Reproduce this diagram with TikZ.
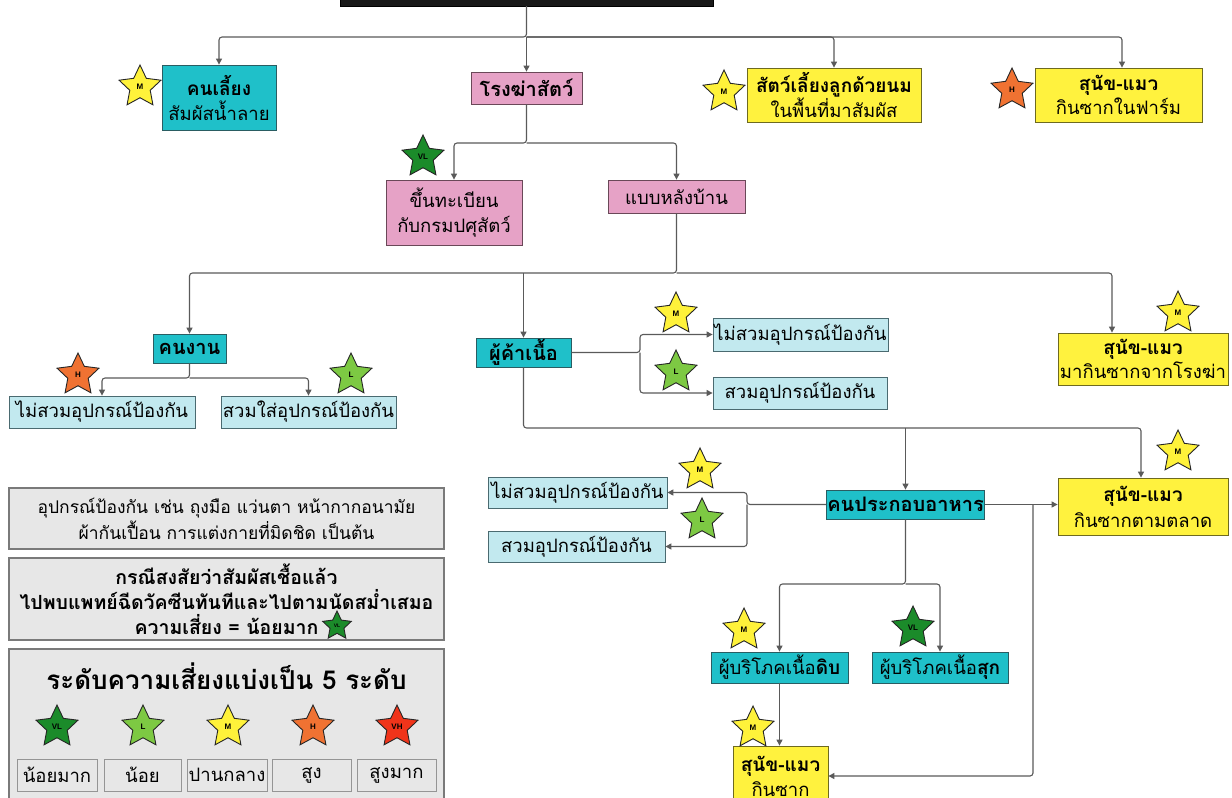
\documentclass[tikz,border=0pt]{standalone}
\usepackage{fontspec}
\usetikzlibrary{shapes.geometric, arrows.meta}
\newfontfamily\thai[Script=Thai]{Loma}
\newfontfamily\lab{Liberation Sans}
\newcommand{\bt}[1]{{\bfseries\fontsize{19}{25}\selectfont #1}}
\definecolor{cyanF}{HTML}{1FC0C9}
\definecolor{cyanD}{HTML}{2A5D62}
\definecolor{pinkF}{HTML}{E6A2C6}
\definecolor{pinkD}{HTML}{6A4858}
\definecolor{yelF}{HTML}{FFF23E}
\definecolor{yelD}{HTML}{6E6A20}
\definecolor{lbF}{HTML}{C2E9EF}
\definecolor{lbD}{HTML}{4A6A70}
\definecolor{grF}{HTML}{E7E7E7}
\definecolor{grD}{HTML}{7A7A7A}
\definecolor{lineC}{HTML}{5A5A5A}
\definecolor{cVL}{HTML}{1B8B2A}
\definecolor{cL}{HTML}{7DC943}
\definecolor{cM}{HTML}{FFF23A}
\definecolor{cH}{HTML}{F07232}
\definecolor{cVH}{HTML}{F0341A}
\tikzset{
  box/.style={draw, line width=0.8pt, inner sep=1pt, align=center, font=\thai\fontsize{18.5}{25}\selectfont},
  boldbox/.style={font=\thai\bfseries\fontsize{20}{25}\selectfont},
  cyanbox/.style={box, fill=cyanF, draw=cyanD},
  pinkbox/.style={box, fill=pinkF, draw=pinkD},
  yelbox/.style={box, fill=yelF, draw=yelD},
  lbbox/.style={box, fill=lbF, draw=lbD},
  legbox/.style={box, fill=grF, draw=grD, line width=1.2pt},
  labbox/.style={box, fill=grF, draw=grD!80, line width=0.8pt},
  trunk/.style={draw=lineC, line width=1.1pt, rounded corners=3pt},
  conn/.style={trunk, -{Triangle[length=6pt,width=6pt]}},
  riskstar/.style={star, star points=5, star point ratio=2.05, minimum size=44pt, inner sep=0pt,
    draw=black!85, line width=0.9pt, font=\lab\bfseries\fontsize{8}{8}\selectfont},
  sVL/.style={riskstar, fill=cVL},
  sL/.style={riskstar, fill=cL},
  sM/.style={riskstar, fill=cM},
  sH/.style={riskstar, fill=cH},
  sVH/.style={riskstar, fill=cVH},
}
\begin{document}
\begin{tikzpicture}[x=1pt,y=-1pt]
\useasboundingbox (0,0) rectangle (1232,798);
\clip (0,0) rectangle (1232,798);
\fill[white] (0,0) rectangle (1232,798);

% top box
\node[draw=black, fill=black!90, minimum width=373pt, minimum height=26pt, inner sep=0pt] (top) at (526.5,-7) {};

% level 1
\node[cyanbox, minimum width=114pt, minimum height=65pt] (keeper) at (219,97.5) {\bt{คนเลี้ยง}\\สัมผัสน้ำลาย};
\node[pinkbox, boldbox, minimum width=111pt, minimum height=32pt] (slaughter) at (526.5,88) {โรงฆ่าสัตว์};
\node[yelbox, minimum width=174pt, minimum height=54pt, font=\thai\fontsize{18.5}{24}\selectfont] (mammal) at (834,95) {\bt{สัตว์เลี้ยงลูกด้วยนม}\\ในพื้นที่มาสัมผัส};
\node[yelbox, minimum width=167pt, minimum height=54pt, font=\thai\fontsize{18.5}{24}\selectfont] (dogfarm) at (1118.5,95) {\bt{สุนัข-แมว}\\กินซากในฟาร์ม};

% level 2
\node[pinkbox, minimum width=136pt, minimum height=65pt] (registered) at (454,212.5) {ขึ้นทะเบียน\\กับกรมปศุสัตว์};
\node[pinkbox, minimum width=137pt, minimum height=33pt] (backyard) at (676.5,196.5) {แบบหลังบ้าน};

% level 3
\node[cyanbox, boldbox, minimum width=73pt, minimum height=29pt] (worker) at (189.5,348.5) {คนงาน};
\node[lbbox, minimum width=186pt, minimum height=32pt] (wnoppe) at (102,412) {ไม่สวมอุปกรณ์ป้องกัน};
\node[lbbox, minimum width=175pt, minimum height=32pt] (wppe) at (308.5,412) {สวมใส่อุปกรณ์ป้องกัน};

\node[cyanbox, boldbox, minimum width=95pt, minimum height=29pt] (trader) at (523.5,352.5) {ผู้ค้าเนื้อ};
\node[lbbox, minimum width=175pt, minimum height=33pt] (tnoppe) at (800.5,334.5) {ไม่สวมอุปกรณ์ป้องกัน};
\node[lbbox, minimum width=174pt, minimum height=32pt] (tppe) at (800,393) {สวมอุปกรณ์ป้องกัน};

\node[yelbox, minimum width=170pt, minimum height=52pt, font=\thai\fontsize{18.5}{24}\selectfont] (dogslaughter) at (1143,359) {\bt{สุนัข-แมว}\\มากินซากจากโรงฆ่า};

% level 4
\node[cyanbox, boldbox, minimum width=155pt, minimum height=29pt] (cook) at (905.5,504.5) {คนประกอบอาหาร};
\node[lbbox, minimum width=179pt, minimum height=31pt] (cnoppe) at (577.5,492.5) {ไม่สวมอุปกรณ์ป้องกัน};
\node[lbbox, minimum width=177pt, minimum height=31pt] (cppe) at (576.5,546.5) {สวมอุปกรณ์ป้องกัน};
\node[yelbox, minimum width=170pt, minimum height=57pt, font=\thai\fontsize{18.5}{26}\selectfont] (dogmarket) at (1143,506.5) {\bt{สุนัข-แมว}\\กินซากตามตลาด};

% level 5
\node[cyanbox, minimum width=137pt, minimum height=31pt] (raw) at (779.5,667.5) {ผู้บริโภคเนื้อ\bt{ดิบ}};
\node[cyanbox, minimum width=136pt, minimum height=31pt] (cooked) at (940,667.5) {ผู้บริโภคเนื้อ\bt{สุก}};
\node[yelbox, minimum width=95pt, minimum height=60pt, font=\thai\fontsize{18.5}{25}\selectfont] (dogscav) at (780.5,776) {\bt{สุนัข-แมว}\\กินซาก};

% legend
\node[legbox, minimum width=435pt, minimum height=61pt, font=\thai\fontsize{17.5}{26}\selectfont] (leg1) at (226.5,518.5) {อุปกรณ์ป้องกัน เช่น ถุงมือ แว่นตา หน้ากากอนามัย\\ผ้ากันเปื้อน การแต่งกายที่มิดชิด เป็นต้น};
\node[legbox, minimum width=435pt, minimum height=82pt, font=\thai\bfseries\fontsize{19.5}{25}\selectfont] (leg2) at (226.5,599) {กรณีสงสัยว่าสัมผัสเชื้อแล้ว\\ไปพบแพทย์ฉีดวัคซีนทันทีและไปตามนัดสม่ำเสมอ\\ความเสี่ยง = น้อยมาก\hspace{22pt}};
\node[legbox, minimum width=435pt, minimum height=161pt] (leg3) at (226.5,729.5) {};
\node[font=\thai\bfseries\fontsize{26}{30}\selectfont] (legtitle) at (226.5,676) {ระดับความเสี่ยงแบ่งเป็น 5 ระดับ};
\node[labbox, minimum width=80pt, minimum height=32pt] (lab1) at (57,775) {น้อยมาก};
\node[labbox, minimum width=77pt, minimum height=32pt] (lab2) at (142.5,775) {น้อย};
\node[labbox, minimum width=80pt, minimum height=32pt] (lab3) at (227,775) {ปานกลาง};
\node[labbox, minimum width=79pt, minimum height=32pt] (lab4) at (311.5,775) {สูง};
\node[labbox, minimum width=79pt, minimum height=32pt] (lab5) at (396.5,775) {สูงมาก};

% connectors
\coordinate (j1) at (526.5,37);
\draw[conn] (top.south) -- (j1) -| (keeper.north);
\draw[conn] (j1) -- (slaughter.north);
\draw[conn] (j1) -| (mammal.north);
\draw[conn] (j1) -| ([xshift=3.5pt]dogfarm.north);

\coordinate (j2) at (526.5,143);
\draw[conn] (slaughter.south) -- (j2) -| (registered.north);
\draw[conn] (j2) -| (backyard.north);

\coordinate (j3) at (676.5,273);
\draw[conn] (backyard.south) -- (j3) -| (worker.north);
\draw[conn] (j3) -| ([xshift=-31pt]dogslaughter.north);
\draw[conn] (trader.north |- j3) -- (trader.north);

\coordinate (j4) at (189.5,378);
\draw[conn] (worker.south) -- (j4) -| (wnoppe.north);
\draw[conn] (j4) -| (wppe.north);

\coordinate (j5) at (640,352.5);
\draw[conn] (trader.east) -- (j5) |- (tnoppe.west);
\draw[conn] (j5) |- (tppe.west);

\coordinate (j6) at (523.5,428);
\draw[conn] (trader.south) -- (j6) -| ([xshift=-2pt]dogmarket.north);
\draw[conn] (cook.north |- j6) -- (cook.north);

\coordinate (j7) at (747,504.5);
\draw[conn] (cook.west) -- (j7) |- (cnoppe.east);
\draw[conn] (j7) |- (cppe.east);

\coordinate (j8) at (1033,504.5);
\draw[conn] (cook.east) -- (cook.east -| dogmarket.west);
\draw[conn] (j8) |- (dogscav.east);

\coordinate (j9) at (905.5,584);
\draw[conn] (cook.south) -- (j9) -| (raw.north);
\draw[conn] (j9) -| (cooked.north);
\draw[conn] (raw.south) -- (raw.south |- dogscav.north);

% stars
\node[sM] (s1) at (140,87) {M};
\node[sM] (s2) at (724,92) {M};
\node[sH] (s3) at (1012,90) {H};
\node[sVL] (s4) at (423,157) {VL};
\node[sH] (s5) at (78,375) {H};
\node[sL] (s6) at (351,375) {L};
\node[sM] (s7) at (676,314) {M};
\node[sL] (s8) at (676,372) {L};
\node[sM] (s9) at (1178,313) {M};
\node[sM] (s10) at (700,470) {M};
\node[sL] (s11) at (702,520) {L};
\node[sM] (s12) at (1178,452) {M};
\node[sM] (s13) at (744,630) {M};
\node[sVL] (s14) at (913,628) {VL};
\node[sM] (s15) at (753,728) {M};
\node[sVL, minimum size=30pt, font=\lab\bfseries\fontsize{5}{5}\selectfont] (s16) at (337,626) {VL};
\node[sVL] (k1) at (57,727) {VL};
\node[sL] (k2) at (143,727) {L};
\node[sM] (k3) at (228,727) {M};
\node[sH] (k4) at (313,727) {H};
\node[sVH] (k5) at (397,727) {VH};
\end{tikzpicture}
\end{document}
